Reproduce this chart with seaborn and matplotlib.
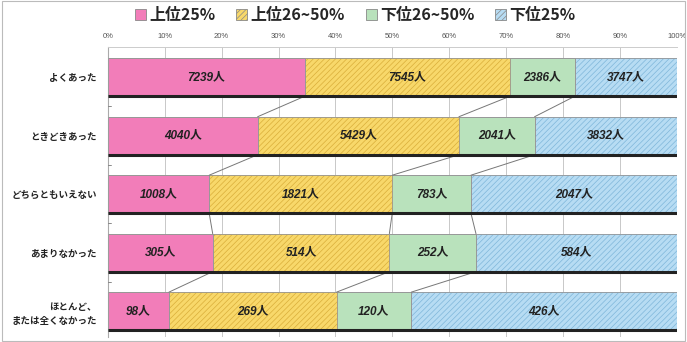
import numpy as np
import pandas as pd
import seaborn as sns
import matplotlib.pyplot as plt
from matplotlib.patches import Patch

sns.set_theme(style="white")
plt.rcParams['font.family'] = ['Noto Sans CJK JP', 'DejaVu Sans']
plt.rcParams['hatch.linewidth'] = 0.5

categories = ["よくあった", "ときどきあった", "どちらともいえない", "あまりなかった", "ほとんど、\nまたは全くなかった"]
series = ["上位25%", "上位26~50%", "下位26~50%", "下位25%"]
top25 = [7239, 4040, 1008, 305, 98]
top26_50 = [7545, 5429, 1821, 514, 269]
low26_50 = [2386, 2041, 783, 252, 120]
low25 = [3747, 3832, 2047, 584, 426]
xticklabels = ["0%", "10%", "20%", "30%", "40%", "50%", "60%", "70%", "80%", "90%", "100%"]

colors = ["#F27DB9", "#F8D86A", "#B9E2BC", "#B7DCF3"]
hatches = [None, "//////", None, "//////"]
hatch_cols = ["#F27DB9", "#D9AE3A", "#B9E2BC", "#7FB6DA"]

vals = np.array([top25, top26_50, low26_50, low25], dtype=float)
tot = vals.sum(axis=0)
pct = vals / tot * 100
cum = np.cumsum(pct, axis=0)
left = cum - pct

fig = plt.figure(figsize=(6.87, 3.42), dpi=100)
ax = fig.add_axes([0.157, 0.015, 0.828, 0.848])

bh = 0.65
for k in range(3, -1, -1):
    df = pd.DataFrame({"cat": categories, "v": cum[k]})
    sns.barplot(data=df, x="v", y="cat", orient="h", color=colors[k], width=bh,
                saturation=1, ax=ax, zorder=2)
patches = ax.patches
for idx, k in enumerate(range(3, -1, -1)):
    for j in range(len(categories)):
        p = patches[idx * len(categories) + j]
        p.set_facecolor(colors[k])
        p.set_edgecolor("#8a8a8a" if hatches[k] is None else hatch_cols[k])
        p.set_linewidth(0.6)
        if hatches[k]:
            p.set_hatch(hatches[k])

for k in range(4):
    for j in range(len(categories)):
        ax.plot([left[k, j], left[k, j]], [j - bh / 2, j + bh / 2], color="#9a9a9a", lw=0.6, zorder=3)

for j in range(len(categories)):
    ax.plot([0, 100], [j + bh / 2, j + bh / 2], color="#222222", lw=2.2, zorder=4, solid_capstyle="butt")
    ax.plot([0, 100], [j - bh / 2, j - bh / 2], color="#9a9a9a", lw=0.6, zorder=3)
    ax.plot([100, 100], [j - bh / 2, j + bh / 2], color="#9a9a9a", lw=0.6, zorder=3)

for k in range(3):
    for j in range(len(categories) - 1):
        ax.plot([cum[k, j], cum[k, j + 1]], [j + bh / 2, j + 1 - bh / 2], color="#777777", lw=0.7, zorder=3)

for k in range(4):
    for j in range(len(categories)):
        ax.text(left[k, j] + pct[k, j] / 2, j, f"{int(vals[k, j])}人", ha="center", va="center",
                fontsize=8.5, style="italic", weight="bold",
                family=["Liberation Sans", "Noto Sans CJK JP"], color="#222222", zorder=5)

ax.set_xlim(0, 100)
ax.set_ylim(4.44, -0.52)
ax.set_xticks(np.arange(0, 101, 10))
ax.set_xticklabels(xticklabels, fontsize=5.5, color="#555555", family=["Liberation Sans"])
ax.xaxis.tick_top()
ax.tick_params(axis="x", length=0, pad=5)
ax.tick_params(axis="y", length=0, pad=8)
ax.set_yticklabels(categories, fontsize=6.8, color="#222222", weight="bold", linespacing=1.5)
ax.set_xlabel("")
ax.set_ylabel("")
ax.grid(axis="x", color="#c8c8c8", lw=0.7, zorder=0)
ax.set_axisbelow(True)
for s in ["right", "bottom"]:
    ax.spines[s].set_visible(False)
ax.spines["top"].set_color("#cccccc")
ax.spines["top"].set_linewidth(0.7)
ax.spines["left"].set_color("#aaaaaa")
ax.spines["left"].set_linewidth(0.8)
for j in range(len(categories) - 1):
    ax.plot([0, 0.6], [j + 0.5, j + 0.5], color="#777777", lw=0.6, zorder=3, clip_on=False)

handles = [Patch(facecolor=colors[k], edgecolor="#888888", hatch=hatches[k], linewidth=0.6) for k in range(4)]
fig.legend(handles, series, loc="center", bbox_to_anchor=(0.517, 0.955), ncol=4, frameon=False,
           handlelength=0.7, handleheight=0.7, handletextpad=0.2, columnspacing=1.3,
           prop={"weight": "bold", "size": 11.5})

fig.patches.append(plt.Rectangle((0.003, 0.003), 0.994, 0.994, transform=fig.transFigure,
                                 fill=False, edgecolor="#bbbbbb", lw=0.8))
fig.savefig("out.png", dpi=100)
